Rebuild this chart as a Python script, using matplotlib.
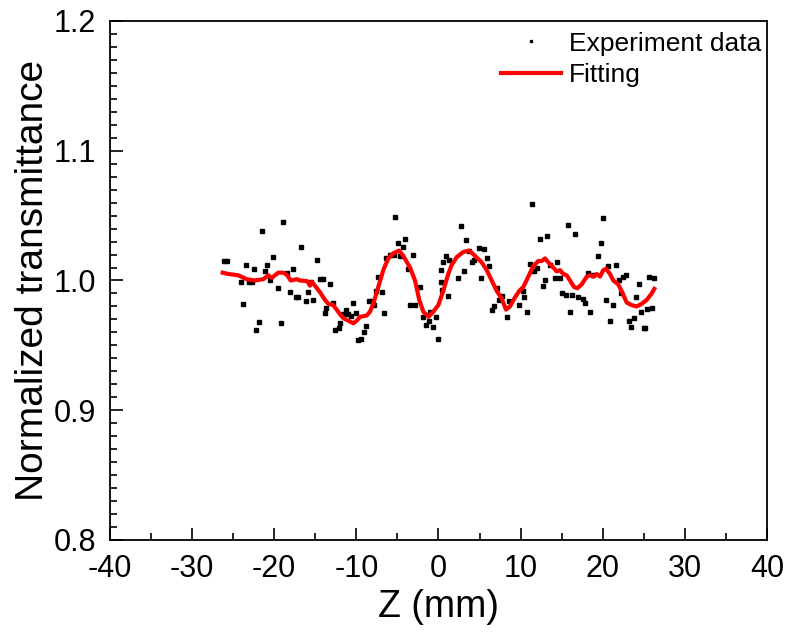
import matplotlib
matplotlib.use('Agg')
import matplotlib.pyplot as plt
from matplotlib.ticker import MultipleLocator

plt.rcParams['font.family'] = ['Liberation Sans', 'DejaVu Sans']
plt.rcParams['axes.unicode_minus'] = False

# Experiment data (Z in mm, normalized transmittance)
z_exp = [-26.12, -25.79, -24.09, -23.77, -23.44, -23.04, -22.75, -22.47, -22.22, -21.89,
         -21.53, -21.16, -20.85, -20.52, -20.15, -19.58, -19.18, -18.90, -18.48, -18.05,
         -17.72, -17.39, -17.11, -16.78, -16.17, -15.85, -15.56, -15.24, -14.83, -14.47,
         -14.10, -13.86, -13.66, -13.25, -12.88, -12.60, -12.15, -11.99, -11.59, -11.30,
         -10.98, -10.65, -10.37, -10.05, -9.77, -9.47, -9.11, -8.79, -8.46, -8.13,
         -7.89, -7.65, -7.33, -6.92, -6.64, -6.39, -5.91, -5.45, -5.30, -4.93,
         -4.69, -4.32, -4.04, -3.75, -3.47, -3.07, -2.86, -2.22, -1.89, -1.56,
         -1.19, -1.03, -0.63, -0.34, -0.02, 0.30, 0.30, 0.46, 0.51, 0.91,
         1.16, 1.32, 2.37, 2.74, 3.14, 3.35, 3.75, 4.04, 4.36, 4.93,
         5.21, 5.58, 5.91, 6.15, 6.48, 6.80, 7.12, 7.37, 7.73, 8.30,
         8.58, 9.84, 10.25, 10.45, 10.81, 11.14, 11.42, 11.63, 11.96, 12.36,
         12.69, 13.01, 13.25, 13.61, 14.22, 14.47, 14.79, 15.07, 15.49, 15.77,
         16.05, 16.29, 16.66, 17.02, 17.60, 17.88, 18.20, 18.48, 18.78, 19.39,
         19.75, 20.03, 20.36, 20.64, 20.92, 21.21, 21.65, 21.98, 22.22, 22.50,
         22.87, 23.20, 23.44, 23.77, 24.05, 24.41, 24.62, 24.99, 25.14, 25.35,
         25.67, 26.00, 26.28]
t_exp = [1.015, 1.015, 0.999, 0.982, 1.012, 0.999, 0.999, 1.009, 0.962, 0.968,
         1.038, 1.007, 1.012, 1.000, 1.018, 0.994, 0.967, 1.045, 1.006, 0.991,
         1.009, 0.987, 0.987, 1.026, 0.984, 0.991, 0.999, 0.985, 1.016, 1.001,
         1.001, 0.975, 0.979, 0.997, 0.983, 0.962, 0.963, 0.967, 0.974, 0.977,
         0.974, 0.973, 0.983, 0.975, 0.954, 0.955, 0.960, 0.965, 0.984, 0.984,
         0.981, 0.992, 1.003, 0.991, 0.975, 1.017, 1.020, 1.020, 1.049, 1.029,
         1.019, 1.026, 1.032, 1.009, 0.981, 1.020, 0.981, 0.995, 0.972, 0.966,
         0.969, 0.976, 0.964, 0.972, 0.955, 0.999, 1.008, 0.993, 1.014, 1.019,
         0.988, 1.016, 1.002, 1.042, 1.007, 1.031, 1.023, 1.014, 1.016, 1.025,
         1.002, 1.024, 1.017, 1.011, 0.977, 0.980, 0.994, 0.985, 0.988, 0.972,
         0.984, 0.981, 0.992, 0.987, 0.976, 1.013, 1.059, 1.007, 1.010, 1.032,
         0.996, 1.000, 1.034, 1.012, 1.002, 1.014, 1.002, 0.990, 0.989, 1.043,
         0.976, 0.989, 1.036, 0.987, 0.986, 0.983, 1.006, 0.976, 1.004, 1.019,
         1.029, 1.048, 0.985, 1.011, 0.969, 0.981, 1.012, 1.000, 0.990, 1.003,
         1.004, 0.969, 0.964, 0.971, 0.987, 0.997, 0.976, 0.963, 0.963, 0.978,
         1.003, 0.979, 1.002]

# Fitting curve
z_fit = [-26.28, -25.59, -24.38, -23.35, -22.34, -21.33, -20.72, -20.31, -19.51, -18.90,
         -18.41, -18.00, -17.27, -16.86, -15.98, -15.65, -15.44, -15.04, -14.43, -13.82,
         -13.42, -12.81, -11.99, -11.59, -10.98, -10.37, -9.96, -9.56, -8.74, -8.34,
         -7.94, -7.33, -6.72, -6.11, -5.50, -4.81, -4.29, -3.47, -2.86, -2.34,
         -1.85, -1.19, -0.63, -0.02, 0.58, 1.19, 1.61, 2.22, 3.02, 3.75,
         4.44, 5.26, 5.87, 6.48, 7.09, 7.70, 8.22, 8.71, 9.32, 9.84,
         10.33, 10.94, 11.54, 12.15, 12.57, 12.97, 13.37, 13.98, 14.39, 14.79,
         15.20, 15.61, 16.01, 16.50, 16.90, 17.44, 18.05, 18.45, 18.85, 19.26,
         19.67, 20.07, 20.40, 20.88, 21.29, 21.89, 22.43, 22.92, 23.52, 24.13,
         24.74, 25.35, 25.96, 26.28]
t_fit = [1.006, 1.005, 1.004, 1.001, 1.000, 1.001, 1.004, 1.002, 1.006, 1.006,
         1.004, 1.000, 1.001, 1.000, 0.9995, 0.996, 0.999, 0.996, 0.991, 0.985,
         0.982, 0.981, 0.974, 0.971, 0.969, 0.967, 0.969, 0.972, 0.973, 0.976,
         0.982, 0.995, 1.008, 1.017, 1.021, 1.023, 1.019, 1.010, 1.000, 0.985,
         0.976, 0.972, 0.976, 0.981, 0.992, 1.005, 1.012, 1.018, 1.022, 1.023,
         1.019, 1.014, 1.008, 1.000, 0.992, 0.986, 0.9775, 0.980, 0.987, 0.992,
         0.995, 1.003, 1.011, 1.015, 1.015, 1.017, 1.014, 1.010, 1.007, 1.008,
         1.005, 1.004, 1.000, 0.995, 0.994, 0.997, 1.003, 1.004, 1.003, 1.005,
         1.003, 1.008, 1.009, 1.005, 1.000, 0.997, 0.990, 0.983, 0.981, 0.980,
         0.982, 0.985, 0.990, 0.9935]

fig = plt.figure(figsize=(7.89, 6.32), dpi=100)
ax = fig.add_axes([0.1394, 0.1456, 0.8327, 0.8212])

ax.plot(z_exp, t_exp, linestyle='none', marker='s', markersize=3.0,
        color='black', label='Experiment data')
ax.plot(z_fit, t_fit, color='red', linewidth=3.0, label='Fitting')

ax.set_xlim(-40, 40)
ax.set_ylim(0.8, 1.2)
ax.xaxis.set_major_locator(MultipleLocator(10))
ax.xaxis.set_minor_locator(MultipleLocator(5))
ax.yaxis.set_major_locator(MultipleLocator(0.1))
ax.yaxis.set_minor_locator(MultipleLocator(0.01))
ax.tick_params(which='both', direction='in', top=False, right=False,
               width=1.2, labelsize=22)
ax.tick_params(which='major', length=9, pad=10)
ax.tick_params(which='minor', length=5)
for sp in ax.spines.values():
    sp.set_linewidth(1.3)

ax.set_xlabel('Z (mm)', fontsize=27, labelpad=4)
ax.set_ylabel('Normalized transmittance', fontsize=28, labelpad=2)

leg = ax.legend(loc='upper right', bbox_to_anchor=(1.008, 1.0), frameon=False,
                fontsize=19, handlelength=2.3, handletextpad=0.3,
                labelspacing=0.3, borderaxespad=0.0, markerscale=0.5)

fig.savefig('out.png', dpi=100)
